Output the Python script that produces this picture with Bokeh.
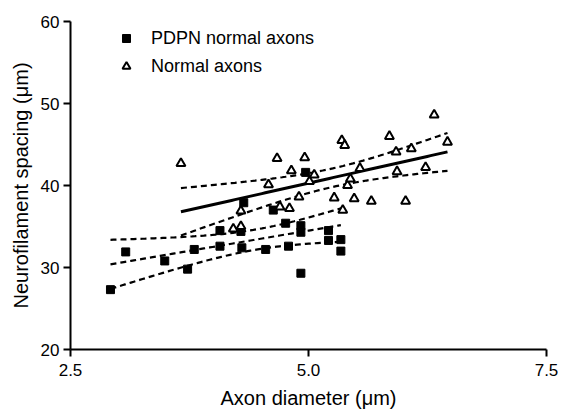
import numpy as np
from bokeh.plotting import figure
from bokeh.models import Range1d, FixedTicker, Legend, LegendItem
from bokeh.embed import file_html
from bokeh.resources import INLINE

# ---- data ----
pdpn_x = [2.92, 3.08, 3.49, 3.73, 3.80, 4.07, 4.07, 4.29, 4.30, 4.32, 4.55,
          4.63, 4.76, 4.79, 4.92, 4.92, 4.92, 4.97, 5.21, 5.21, 5.34, 5.34]
pdpn_y = [27.3, 31.9, 30.8, 29.8, 32.2, 32.6, 34.5, 34.4, 32.4, 37.9, 32.2,
          37.0, 35.4, 32.6, 35.1, 34.3, 29.3, 41.6, 34.5, 33.3, 33.4, 32.0]

normal_x = [3.66, 4.21, 4.29, 4.29, 4.58, 4.67, 4.70, 4.80, 4.82, 4.90,
            4.96, 5.01, 5.06, 5.27, 5.35, 5.38, 5.36, 5.41, 5.44, 5.48,
            5.54, 5.66, 5.85, 5.92, 5.93, 6.02, 6.08, 6.23, 6.32, 6.46]
normal_y = [42.7, 34.7, 35.0, 36.9, 40.1, 43.3, 37.4, 37.2, 41.8, 38.6,
            43.4, 40.5, 41.3, 38.5, 45.5, 44.9, 37.0, 40.0, 40.8, 38.4,
            42.1, 38.1, 46.0, 44.1, 41.7, 38.1, 44.5, 42.2, 48.6, 45.3]

x_ticks = [2.5, 5.0, 7.5]
x_tick_labels = ["2.5", "5.0", "7.5"]
y_ticks = [20, 30, 40, 50, 60]

series_labels = ["PDPN normal axons", "Normal axons"]
x_title = "Axon diameter (\u03bcm)"
y_title = "Neurofilament spacing (\u03bcm)"


def t975(df):
    z = 1.959964
    return (z + (z**3 + z) / (4 * df)
            + (5 * z**5 + 16 * z**3 + 3 * z) / (96 * df**2))


def fit_band(x, y, n_pts=80):
    x = np.asarray(x, float)
    y = np.asarray(y, float)
    n = len(x)
    slope, intercept = np.polyfit(x, y, 1)
    xs = np.linspace(x.min(), x.max(), n_pts)
    yhat = intercept + slope * xs
    resid = y - (intercept + slope * x)
    s = np.sqrt(np.sum(resid**2) / (n - 2))
    sxx = np.sum((x - x.mean())**2)
    se = s * np.sqrt(1.0 / n + (xs - x.mean())**2 / sxx)
    t = t975(n - 2)
    return xs, yhat, yhat - t * se, yhat + t * se


FONT = "Liberation Sans"

p = figure(width=558, height=411,
           x_range=Range1d(2.5, 7.5), y_range=Range1d(20, 60),
           output_backend="svg", toolbar_location=None,
           min_border_left=70, min_border_right=12,
           min_border_top=21, min_border_bottom=60)
p.outline_line_color = None
p.xgrid.visible = False
p.ygrid.visible = False
p.background_fill_color = "white"

for ax in (p.xaxis[0], p.yaxis[0]):
    ax.axis_line_width = 2
    ax.axis_line_color = "black"
    ax.major_tick_line_width = 2
    ax.major_tick_line_color = "black"
    ax.major_tick_out = 7
    ax.major_tick_in = 0
    ax.minor_tick_out = 0
    ax.minor_tick_in = 0
    ax.major_label_text_font = FONT
    ax.major_label_text_font_size = "17px"
    ax.major_label_text_color = "black"
    ax.axis_label_text_font = FONT
    ax.axis_label_text_font_size = "20px"
    ax.axis_label_text_font_style = "normal"
    ax.axis_label_text_color = "black"

p.xaxis.ticker = FixedTicker(ticks=x_ticks)
p.xaxis.major_label_overrides = {t: l for t, l in zip(x_ticks, x_tick_labels)}
p.yaxis.ticker = FixedTicker(ticks=y_ticks)
p.xaxis.axis_label = x_title
p.yaxis.axis_label = y_title
p.xaxis.major_label_standoff = 7
p.xaxis.axis_label_standoff = 8
p.yaxis.major_label_standoff = 4
p.yaxis.axis_label_standoff = 6

# regression lines with 95% confidence bands
for xs_, ys_, solid in ((pdpn_x, pdpn_y, False), (normal_x, normal_y, True)):
    xs, yhat, lo, hi = fit_band(xs_, ys_)
    p.line(xs, lo, line_color="black", line_width=2.2, line_dash="6 4")
    p.line(xs, hi, line_color="black", line_width=2.2, line_dash="6 4")
    if solid:
        p.line(xs, yhat, line_color="black", line_width=3)
    else:
        p.line(xs, yhat, line_color="black", line_width=2.2, line_dash="6 4")

sq = p.scatter(pdpn_x, pdpn_y, marker="square", size=8,
               fill_color="black", line_color="black", line_width=1)
tri = p.scatter(normal_x, normal_y, marker="triangle", size=9,
                fill_color="white", line_color="black", line_width=2)

legend = Legend(items=[LegendItem(label=series_labels[0], renderers=[sq]),
                       LegendItem(label=series_labels[1], renderers=[tri])],
                location=(46, 271), padding=0, margin=0, spacing=4,
                label_height=24, glyph_height=24, glyph_width=20,
                label_standoff=15, border_line_color=None,
                background_fill_alpha=0, label_text_font=FONT,
                label_text_font_size="18px", label_text_color="black")
p.add_layout(legend, "center")

open("out.html", "w").write(file_html(p, INLINE))
